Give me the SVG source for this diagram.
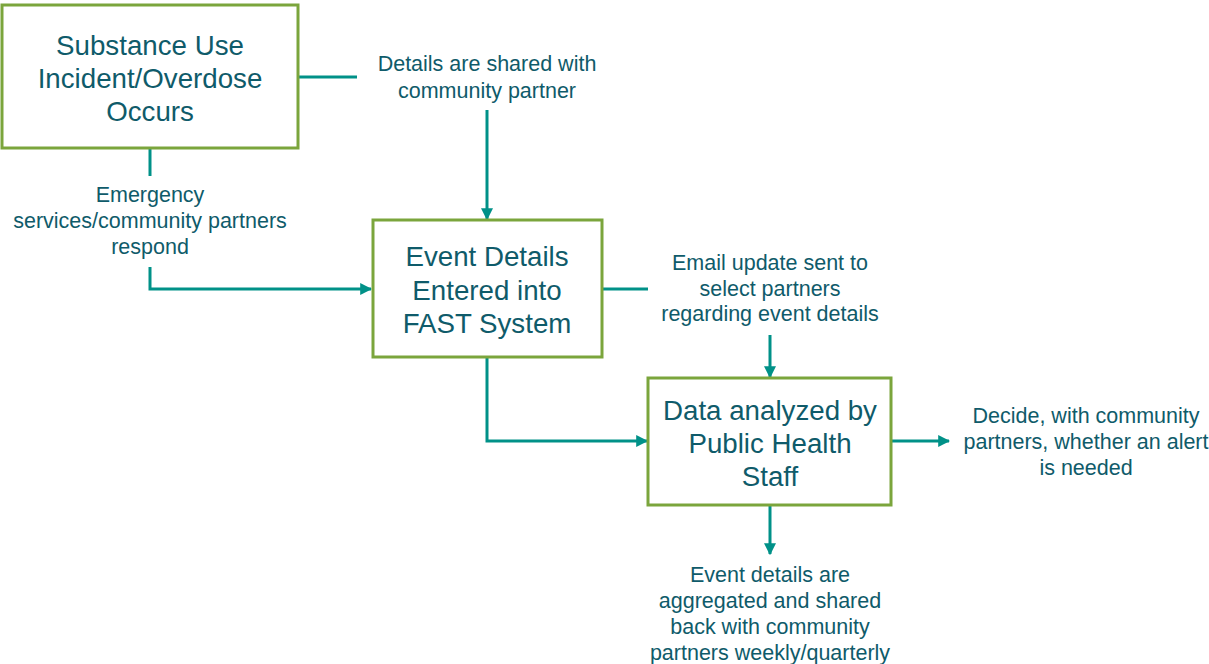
<svg xmlns="http://www.w3.org/2000/svg" width="1209" height="664" viewBox="0 0 1209 664">
<defs>
<style>
.box{fill:#fff;stroke:#7BA53C;stroke-width:3}
.bt{font-family:"Liberation Sans",Arial,sans-serif;font-size:27.7px;fill:#0F5B6A;text-anchor:middle}
.lt{font-family:"Liberation Sans",Arial,sans-serif;font-size:21.5px;fill:#0F5B6A;text-anchor:middle}
.c{fill:none;stroke:#009188;stroke-width:3}
</style>
<marker id="ah" viewBox="0 0 10 10" refX="9" refY="5" markerWidth="4" markerHeight="4" orient="auto" markerUnits="strokeWidth">
<path d="M0,0 L10,5 L0,10 z" fill="#009188"/>
</marker>
</defs>
<rect width="1209" height="664" fill="#fff"/>
<g id="connectors">
<path class="c" d="M298,77 H357"/>
<path class="c" d="M150,148 V176"/>
<path class="c" d="M150,267 V289 H371" marker-end="url(#ah)"/>
<path class="c" d="M487,110 V219" marker-end="url(#ah)"/>
<path class="c" d="M602,289 H648"/>
<path class="c" d="M770,335 V377" marker-end="url(#ah)"/>
<path class="c" d="M487,357 V441 H647" marker-end="url(#ah)"/>
<path class="c" d="M891,441 H949" marker-end="url(#ah)"/>
<path class="c" d="M770,505 V554" marker-end="url(#ah)"/>
</g>
<g id="node1">
<rect class="box" x="2" y="5" width="296" height="143"/>
<text class="bt" x="150" y="55">Substance Use</text>
<text class="bt" x="150" y="88">Incident/Overdose</text>
<text class="bt" x="150" y="121">Occurs</text>
</g>
<g id="label1">
<text class="lt" x="150" y="202">Emergency</text>
<text class="lt" x="150" y="228">services/community partners</text>
<text class="lt" x="150" y="254">respond</text>
</g>
<g id="label2">
<text class="lt" x="487" y="71">Details are shared with</text>
<text class="lt" x="487" y="98">community partner</text>
</g>
<g id="node2">
<rect class="box" x="373" y="220" width="229" height="137"/>
<text class="bt" x="487" y="266">Event Details</text>
<text class="bt" x="487" y="300">Entered into</text>
<text class="bt" x="487" y="333">FAST System</text>
</g>
<g id="label3">
<text class="lt" x="770" y="270">Email update sent to</text>
<text class="lt" x="770" y="296">select partners</text>
<text class="lt" x="770" y="321">regarding event details</text>
</g>
<g id="node3">
<rect class="box" x="648" y="378" width="243" height="127"/>
<text class="bt" x="770" y="420">Data analyzed by</text>
<text class="bt" x="770" y="453">Public Health</text>
<text class="bt" x="770" y="486">Staff</text>
</g>
<g id="label4">
<text class="lt" x="1086" y="423">Decide, with community</text>
<text class="lt" x="1086" y="449">partners, whether an alert</text>
<text class="lt" x="1086" y="475">is needed</text>
</g>
<g id="label5">
<text class="lt" x="770" y="582">Event details are</text>
<text class="lt" x="770" y="608">aggregated and shared</text>
<text class="lt" x="770" y="634">back with community</text>
<text class="lt" x="770" y="660">partners weekly/quarterly</text>
</g>
</svg>
